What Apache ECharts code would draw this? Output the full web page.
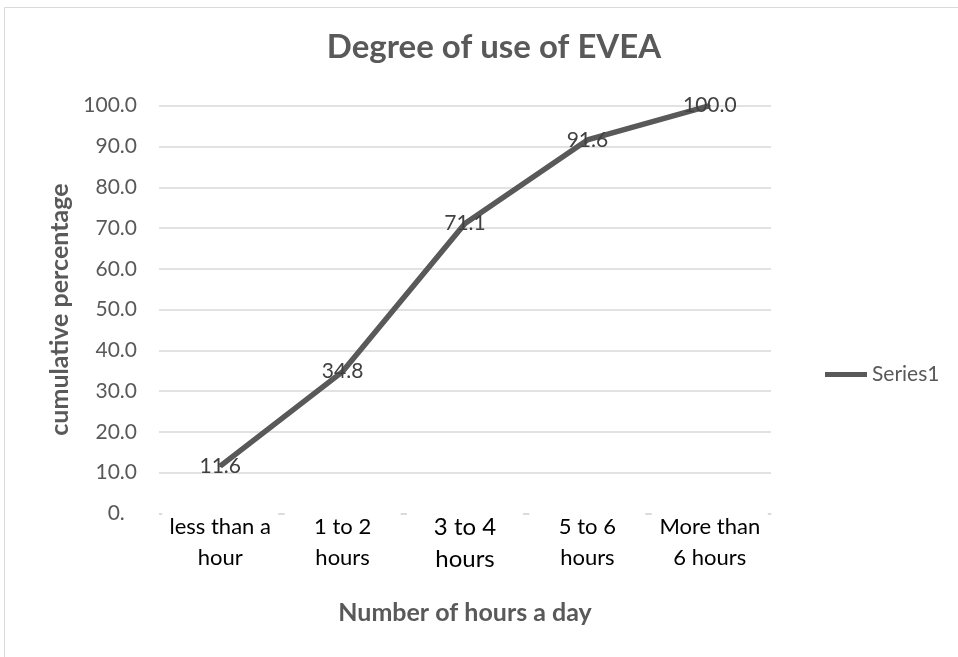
<!DOCTYPE html>
<html><head><meta charset="utf-8">
<script src="https://cdn.jsdelivr.net/npm/echarts@6/dist/echarts.min.js"></script>
<style>html,body{margin:0;padding:0;background:#fff}#c{width:958px;height:657px}</style>
</head><body><div id="c"></div>
<script>
var categories = ['less than a\nhour', '1 to 2\nhours', '3 to 4\nhours', '5 to 6\nhours', 'More than\n6 hours'];
var values = [11.6, 34.8, 71.1, 91.6, 100.0];
var yTicks = [0, 10, 20, 30, 40, 50, 60, 70, 80, 90, 100];
var seriesName = 'Series1';

var F = 'Lato, "Liberation Sans", sans-serif';
var chart = echarts.init(document.getElementById('c'));
chart.setOption({
  backgroundColor: '#fff',
  animation: false,
  graphic: [
    {type:'rect', shape:{x:4.5,y:7.5,width:1000,height:700}, style:{fill:'none', stroke:'#d9d9d9', lineWidth:1}, z:-10},
    {type:'rect', shape:{x:125,y:503,width:34,height:26}, style:{fill:'#fff'}, z:100}
  ],
  title: {text:'Degree of use of EVEA', left:489, textAlign:'center', top:26,
    textStyle:{fontFamily:F, fontSize:33, fontWeight:'bold', color:'#595959'}},
  legend: {data:[seriesName], left:820, top:359, itemWidth:42, itemHeight:5, itemGap:0,
    icon:'rect', itemStyle:{color:'#595959', opacity:1, borderWidth:0},
    textStyle:{fontFamily:F, fontSize:21, color:'#595959'}},
  grid: {left:159, right:187, top:105.7, bottom:143.5},
  xAxis: {type:'category', data:categories, boundaryGap:true,
    axisLine:{show:true, lineStyle:{color:'#d9d9d9', width:1.5}},
    axisTick:{show:false},
    name:'Number of hours a day', nameLocation:'middle', nameGap:87,
    nameTextStyle:{fontFamily:F, fontSize:25, fontWeight:'bold', color:'#595959'},
    axisLabel:{margin:-10, interval:0, color:'#000', fontFamily:F, fontSize:22, lineHeight:31,
      backgroundColor:'#fff', padding:[8,0,4,0], width:116, align:'center',
      formatter:function(v, i){ return i===2 ? '{b|'+v.replace('\n','}\n{b|')+'}' : v; },
      rich:{b:{fontFamily:F, fontSize:24, lineHeight:32, color:'#000'}}}
  },
  yAxis: {type:'value', min:0, max:100, interval:10,
    axisLine:{show:false}, axisTick:{show:false},
    splitLine:{lineStyle:{color:'#d9d9d9', width:1.5}},
    axisLabel:{fontFamily:F, fontSize:21, color:'#595959', margin:22,
      formatter:function(v){return v.toFixed(1);}},
    name:'cumulative percentage', nameLocation:'middle', nameGap:86,
    nameTextStyle:{fontFamily:F, fontSize:25, fontWeight:'bold', color:'#595959'}
  },
  series: [{name:seriesName, type:'line', data:values, symbol:'circle', symbolSize:2, showSymbol:true,
    lineStyle:{color:'#595959', width:5.5}, itemStyle:{color:'#595959'},
    label:{show:true, position:'inside', fontFamily:F, fontSize:21, color:'#404040',
      formatter:function(p){return p.value.toFixed(1);}}
  }]
});
</script></body></html>
